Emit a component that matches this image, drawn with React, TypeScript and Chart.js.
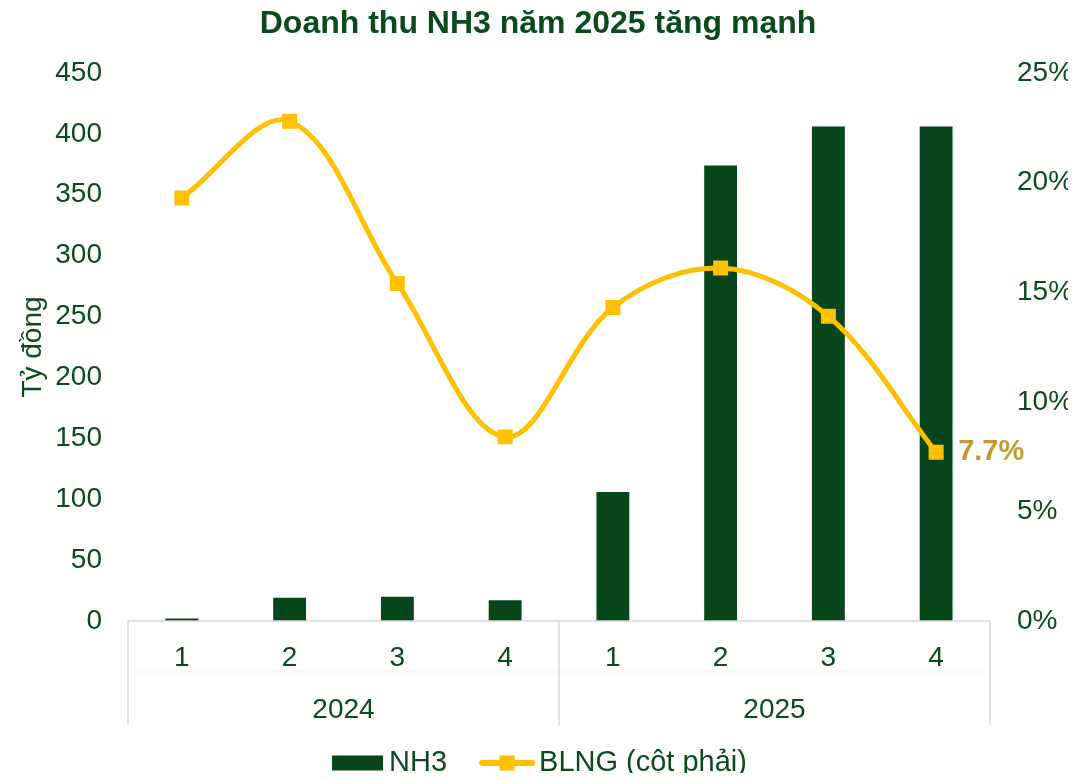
import React, { useEffect, useRef } from 'react';
import { Chart, registerables } from 'chart.js';

Chart.register(...registerables);

// ---- Data ----
const chartTitle = 'Doanh thu NH3 năm 2025 tăng mạnh';
const leftAxisTitle = 'Tỷ đồng';
const quarterLabels = ['1', '2', '3', '4', '1', '2', '3', '4'];
const yearLabels = ['2024', '2025'];
const quartersPerYear = 4;
const nh3Label = 'NH3';
const blngLabel = 'BLNG (cột phải)';
const nh3Revenue = [2, 19, 20, 17, 106, 374, 406, 406];
const blngMargin = [19.3, 22.8, 15.4, 8.4, 14.3, 16.1, 13.9, 7.7];
const leftAxisRange = [0, 450, 50];
const rightAxisRange = [0, 25, 5];

// ---- Style ----
const GREEN_TEXT = '#0b4a1d';
const GREEN_BAR = '#06461a';
const YELLOW = '#FFC000';
const GOLD_LABEL = '#BF9B30';
const AXIS_GRAY = '#d9d9d9';
const FONT = '"Liberation Sans", Arial, sans-serif';

const xDecorPlugin = {
  id: 'xDecor',
  afterDraw(chart: any) {
    const { ctx, chartArea, scales } = chart;
    const x = scales.x;
    const y0 = chartArea.bottom;
    const n = quarterLabels.length;
    const xl = x.getPixelForValue(-0.5);
    const xr = x.getPixelForValue(n - 0.5);
    ctx.save();
    // faint inner separator between the two label rows
    ctx.strokeStyle = '#f3f3f3';
    ctx.lineWidth = 1;
    ctx.beginPath();
    ctx.moveTo(xl, y0 + 51);
    ctx.lineTo(xr, y0 + 51);
    ctx.stroke();
    // axis line
    ctx.strokeStyle = AXIS_GRAY;
    ctx.lineWidth = 1.5;
    ctx.beginPath();
    ctx.moveTo(xl, y0);
    ctx.lineTo(xr, y0);
    ctx.stroke();
    // group separators
    for (let g = 0; g <= yearLabels.length; g++) {
      const px = x.getPixelForValue(g * quartersPerYear - 0.5);
      ctx.beginPath();
      ctx.moveTo(px, y0);
      ctx.lineTo(px, y0 + 104);
      ctx.stroke();
    }
    // year labels
    ctx.fillStyle = GREEN_TEXT;
    ctx.font = `28px ${FONT}`;
    ctx.textAlign = 'center';
    ctx.textBaseline = 'middle';
    yearLabels.forEach((yl, g) => {
      const mid = x.getPixelForValue(g * quartersPerYear + (quartersPerYear - 1) / 2);
      ctx.fillText(yl, mid, y0 + 89);
    });
    ctx.restore();
  },
};

const legendPlugin = {
  id: 'customLegend',
  afterDraw(chart: any) {
    const { ctx, width, height } = chart;
    ctx.save();
    ctx.font = `29px ${FONT}`;
    const w1 = ctx.measureText(nh3Label).width;
    const w2 = ctx.measureText(blngLabel).width;
    const boxW = 51, boxH = 15, iconW = 56;
    const total = boxW + 6 + w1 + 32 + iconW + 4 + w2;
    let x = width / 2 + 1.5 - total / 2;
    const cy = height - 18;
    // bar swatch
    ctx.fillStyle = GREEN_BAR;
    ctx.fillRect(x, cy - boxH / 2, boxW, boxH);
    x += boxW + 6;
    ctx.fillStyle = GREEN_TEXT;
    ctx.textAlign = 'left';
    ctx.textBaseline = 'middle';
    ctx.fillText(nh3Label, x, cy);
    x += w1 + 32;
    // line swatch
    ctx.strokeStyle = YELLOW;
    ctx.lineWidth = 6;
    ctx.lineCap = 'round';
    ctx.beginPath();
    ctx.moveTo(x + 3, cy);
    ctx.lineTo(x + iconW - 3, cy);
    ctx.stroke();
    ctx.fillStyle = YELLOW;
    ctx.fillRect(x + iconW / 2 - 7.5, cy - 7.5, 15, 15);
    x += iconW + 4;
    ctx.fillStyle = GREEN_TEXT;
    ctx.fillText(blngLabel, x, cy);
    ctx.restore();
  },
};

const lastLabelPlugin = {
  id: 'lastLabel',
  afterDatasetsDraw(chart: any) {
    const meta = chart.getDatasetMeta(1);
    const pts = meta.data;
    const last = pts[pts.length - 1];
    if (!last) return;
    const { ctx } = chart;
    ctx.save();
    ctx.fillStyle = GOLD_LABEL;
    ctx.font = `bold 29px ${FONT}`;
    ctx.textAlign = 'left';
    ctx.textBaseline = 'middle';
    ctx.fillText(`${blngMargin[blngMargin.length - 1].toFixed(1)}%`, last.x + 22, last.y);
    ctx.restore();
  },
};

export default function App() {
  const ref = useRef<HTMLCanvasElement | null>(null);

  useEffect(() => {
    if (!ref.current) return;
    const chart = new Chart(ref.current, {
      type: 'bar',
      data: {
        labels: quarterLabels,
        datasets: [
          {
            type: 'bar',
            label: nh3Label,
            data: nh3Revenue,
            backgroundColor: GREEN_BAR,
            yAxisID: 'y',
            barPercentage: 0.305,
            categoryPercentage: 1,
            order: 1,
          },
          {
            type: 'line',
            label: blngLabel,
            data: blngMargin,
            borderColor: YELLOW,
            backgroundColor: YELLOW,
            borderWidth: 5,
            pointStyle: 'rect',
            pointRadius: 10.6,
            pointBorderWidth: 0,
            pointBackgroundColor: YELLOW,
            tension: 0.35,
            yAxisID: 'y1',
            order: 0,
          },
        ],
      } as any,
      options: {
        responsive: false,
        animation: false,
        devicePixelRatio: 1,
        layout: { padding: { top: 0, left: 0, right: 0, bottom: 48 } },
        plugins: {
          title: {
            display: true,
            text: chartTitle,
            color: GREEN_TEXT,
            font: { family: FONT, size: 32, weight: 'bold', lineHeight: 1.0 },
            padding: { top: 0, bottom: 33 },
          },
          legend: { display: false },
          tooltip: { enabled: false },
        },
        scales: {
          x: {
            grid: { display: false, drawTicks: false },
            border: { display: false },
            ticks: { color: GREEN_TEXT, font: { family: FONT, size: 28 }, padding: 20, maxRotation: 0 },
            afterFit: (s: any) => { s.height = 112; },
          },
          y: {
            position: 'left',
            min: leftAxisRange[0],
            max: leftAxisRange[1],
            grid: { display: false, drawTicks: false },
            border: { display: false },
            ticks: { stepSize: leftAxisRange[2], color: GREEN_TEXT, font: { family: FONT, size: 28 }, padding: 26 },
            title: { display: true, text: leftAxisTitle, color: GREEN_TEXT, font: { family: FONT, size: 28 }, padding: { top: 8, bottom: 0 } },
            afterFit: (s: any) => { s.width = 120; },
          },
          y1: {
            position: 'right',
            min: rightAxisRange[0],
            max: rightAxisRange[1],
            grid: { display: false, drawTicks: false },
            border: { display: false },
            ticks: {
              stepSize: rightAxisRange[2],
              color: GREEN_TEXT,
              font: { family: FONT, size: 28 },
              padding: 27,
              crossAlign: 'near',
              callback: (v: any) => `${v}%`,
            },
            afterFit: (s: any) => { s.width = 78; },
          },
        },
      } as any,
      plugins: [xDecorPlugin, legendPlugin, lastLabelPlugin],
    });
    return () => chart.destroy();
  }, []);

  return (
    <div style={{ width: 1060, height: 765 }}>
      <canvas ref={ref} width={1060} height={773} style={{ display: 'block' }} />
    </div>
  );
}
